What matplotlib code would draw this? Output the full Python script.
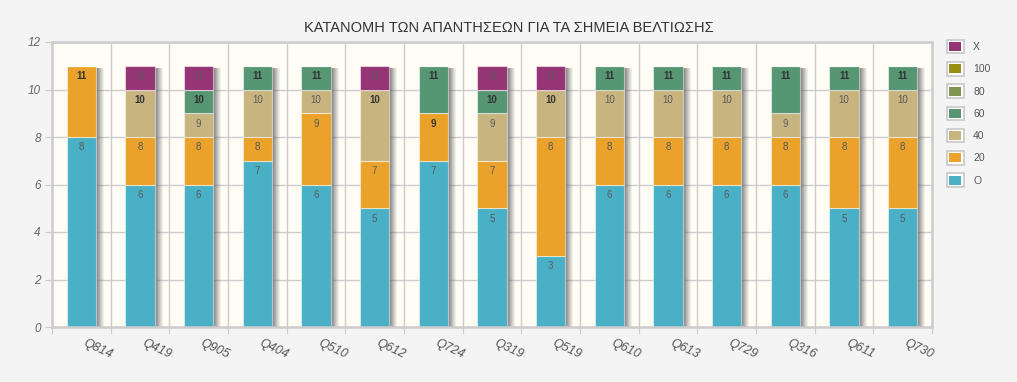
import matplotlib
matplotlib.use("Agg")
import matplotlib.pyplot as plt
import numpy as np
from matplotlib.patches import Rectangle, Patch
from matplotlib.legend_handler import HandlerBase

plt.rcParams['font.family'] = ['Liberation Sans', 'DejaVu Sans']

title = "ΚΑΤΑΝΟΜΗ ΤΩΝ ΑΠΑΝΤΗΣΕΩΝ ΓΙΑ ΤΑ ΣΗΜΕΙΑ ΒΕΛΤΙΩΣΗΣ"
categories = ["Q814", "Q419", "Q905", "Q404", "Q510", "Q612", "Q724", "Q319",
              "Q519", "Q610", "Q613", "Q729", "Q316", "Q611", "Q730"]
series_names = ["O", "20", "40", "60", "80", "100", "X"]
s_O   = [8, 6, 6, 7, 6, 5, 7, 5, 3, 6, 6, 6, 6, 5, 5]
s_20  = [3, 2, 2, 1, 3, 2, 2, 2, 5, 2, 2, 2, 2, 3, 3]
s_40  = [0, 2, 1, 2, 1, 3, 0, 2, 2, 2, 2, 2, 1, 2, 2]
s_60  = [0, 0, 1, 1, 1, 0, 2, 1, 0, 1, 1, 1, 2, 1, 1]
s_80  = [0, 0, 0, 0, 0, 0, 0, 0, 0, 0, 0, 0, 0, 0, 0]
s_100 = [0, 0, 0, 0, 0, 0, 0, 0, 0, 0, 0, 0, 0, 0, 0]
s_X   = [0, 1, 1, 0, 0, 1, 0, 1, 1, 0, 0, 0, 0, 0, 0]
series_values = [s_O, s_20, s_40, s_60, s_80, s_100, s_X]
colors = ["#4ab0c5", "#eba22a", "#c8b47f", "#579673", "#7f9554", "#978e12", "#953575"]
yticks = [0, 2, 4, 6, 8, 10, 12]

W, H = 1017, 382
fig = plt.figure(figsize=(W / 100, H / 100), dpi=100)
fig.patch.set_facecolor("#f4f4f4")
ax = fig.add_axes([52 / W, 55 / H, 880 / W, 285 / H])
ax.set_facecolor("#fffdf6")

n = len(categories)
x = np.arange(n)
bw = 0.5
px = 1.0 / (880 / n)          # data units per pixel (x)
py = 12.0 / 285               # data units per pixel (y)

totals = np.sum(np.array(series_values), axis=0)

# shadows
for i in range(n):
    top = totals[i]
    steps = 8
    for k in range(steps):
        a = 0.85 * (1 - k / steps) ** 1.1
        ax.add_patch(Rectangle((x[i] + bw / 2 + k * px, 0), px, top - 2 * py,
                               facecolor="#666666", alpha=a, lw=0, zorder=1.5))

bottom = np.zeros(n)
tops = []
for vals, c in zip(series_values, colors):
    vals = np.array(vals)
    ax.bar(x, vals, bw, bottom=bottom, color=c, edgecolor=(1, 1, 1, 0.5),
           linewidth=0.8, zorder=2)
    bottom = bottom + vals
    tops.append(bottom.copy())

# cumulative labels (zero-height segments print over the same label)
for i in range(n):
    counts = {}
    for si in range(len(series_values)):
        t = int(tops[si][i])
        counts[t] = counts.get(t, 0) + 1
    for t, cnt in counts.items():
        if t == 0:
            continue
        bold = cnt > 1
        ax.annotate(str(t), (x[i], t), xytext=(0, -7.5), textcoords="offset points",
                    ha="center", va="center", fontsize=7,
                    fontweight="bold" if bold else "normal",
                    color="#333333" if bold else "#5a5a5a", zorder=4)

ax.set_xlim(-0.5, n - 0.5)
ax.set_ylim(0, 12)
ax.set_yticks(yticks)
ax.set_yticklabels([str(v) for v in yticks], fontstyle="italic", fontsize=8.5, color="#666666")
ax.set_xticks(np.arange(n + 1) - 0.5, minor=False)
ax.tick_params(axis="x", which="major", length=5, color="#cccccc", labelbottom=False)
ax.set_xticks(x, minor=True)
ax.set_xticklabels(categories, minor=True, rotation=-25, ha="left", va="top",
                   fontsize=9, fontstyle="italic", color="#555555", rotation_mode="default")
ax.tick_params(axis="x", which="minor", length=0, pad=7)
ax.tick_params(axis="y", length=5, color="#cccccc", pad=3)
ax.grid(True, which="major", color="#cccccc", linewidth=1, zorder=0)
ax.set_axisbelow(True)
for sp in ax.spines.values():
    sp.set_color("#cccccc")
    sp.set_linewidth(1.8)

fig.text(509 / W, 1 - 28 / H, title, ha="center", va="center", fontsize=10.5, color="#333333")


class BoxHandler(HandlerBase):
    def create_artists(self, legend, orig_handle, xdescent, ydescent, width, height, fontsize, trans):
        outer = Rectangle((-xdescent, -ydescent), width, height, facecolor="white",
                          edgecolor="#c8c8c8", lw=1.2, transform=trans)
        g = 1.6
        inner = Rectangle((-xdescent + g, -ydescent + g), width - 2 * g, height - 2 * g,
                          facecolor=orig_handle.get_facecolor(), lw=0, transform=trans)
        return [outer, inner]


handles = [Patch(facecolor=c) for c in colors][::-1]
labels = series_names[::-1]
fig.legend(handles, labels, loc="upper left", bbox_to_anchor=(947 / W, 1 - 40 / H),
           frameon=False, fontsize=7.5, handlelength=1.6, handleheight=1.6,
           labelspacing=0.85, handletextpad=0.9, labelcolor="#555555",
           borderpad=0, borderaxespad=0,
           handler_map={Patch: BoxHandler()})

fig.savefig("out.png", dpi=100, facecolor=fig.get_facecolor())
